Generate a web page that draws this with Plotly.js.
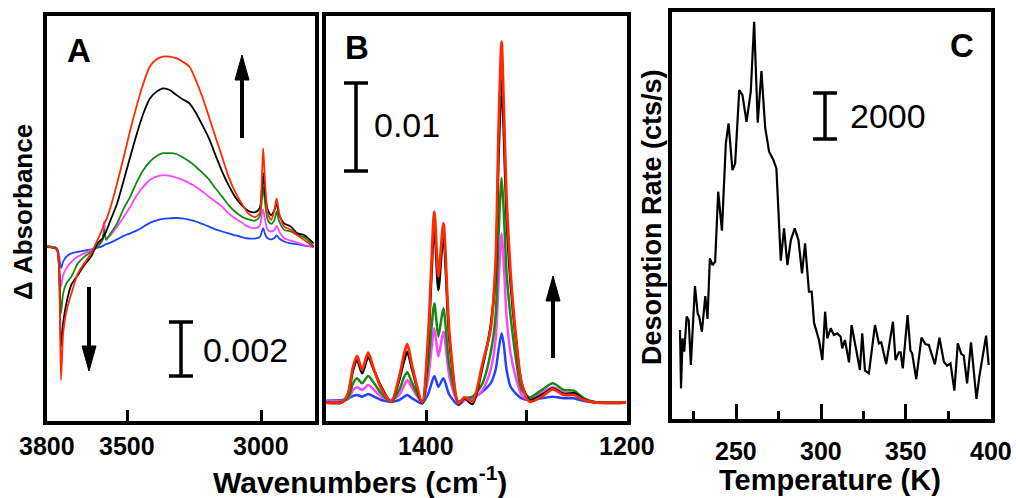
<!DOCTYPE html>
<html><head><meta charset="utf-8">
<script src="https://cdn.plot.ly/plotly-3.0.1.min.js"></script>
<style>html,body{margin:0;padding:0;background:#fff}#chart{width:1016px;height:498px}</style>
</head><body><div id="chart"></div>
<script>
// ---------- Panel A : O-H / C-H stretch region (mAbs) ----------
const aWavenumber = [3799,3762,3754,3746,3738,3726,3707,3683,3659,3634,3610,3591,3585,3578,3561,3537,3512,3488,3463,3439,3415,3390,3366,3341,3317,3293,3268,3244,3220,3195,3171,3146,3122,3098,3073,3049,3024,3006,2999,2993,2985,2976,2963,2951,2943,2933,2915,2890,2866,2841,2805];
const aRed = [0,-0.10,-0.62,-4.94,-3.21,-2.40,-1.73,-0.99,-0.62,-0.25,0.25,0.68,0.86,0.99,1.48,2.35,3.33,4.32,5.25,6.05,6.67,6.94,7.04,7.04,6.98,6.85,6.67,6.17,5.56,4.81,4.07,3.33,2.59,2.04,1.60,1.23,1.09,1.23,2.22,3.64,2.22,1.23,0.99,1.36,1.79,1.23,0.74,0.62,0.43,0.25,-0.02];
const aBlack = [-0.02,-0.10,-0.62,-3.70,-2.84,-2.10,-1.40,-1.05,-0.68,-0.37,0.12,0.31,0.43,0.56,0.99,1.60,2.47,3.33,4.20,4.94,5.49,5.74,5.86,5.80,5.62,5.46,5.31,4.96,4.51,4.01,3.40,2.78,2.28,1.85,1.54,1.33,1.27,1.42,1.98,2.72,1.85,1.36,1.17,1.36,1.58,1.17,0.86,0.74,0.49,0.43,0.12];
const aGreen = [0.02,-0.06,-0.62,-2.47,-1.73,-1.36,-1.11,-0.62,-0.37,-0.19,0,0.25,0.62,0.25,0.49,0.86,1.42,1.85,2.41,2.84,3.15,3.36,3.46,3.46,3.43,3.31,3.15,2.96,2.74,2.49,2.16,1.85,1.54,1.30,1.11,1.01,0.96,1.11,1.60,2.22,1.54,0.99,0.84,0.99,1.30,0.93,0.62,0.56,0.43,0.35,0.02];
const aMagenta = [0,-0.06,-0.49,-1.48,-1.05,-0.80,-0.56,-0.37,-0.25,-0.12,0.02,0.25,0.93,0.31,0.43,0.74,1.11,1.48,1.91,2.22,2.47,2.59,2.65,2.62,2.56,2.47,2.35,2.22,2.04,1.85,1.67,1.48,1.23,1.05,0.89,0.74,0.68,0.77,1.11,1.38,0.93,0.62,0.56,0.62,0.77,0.56,0.31,0.22,0.15,0.06,-0.02];
const aBlue = [0.02,-0.06,-0.31,-0.80,-0.56,-0.37,-0.25,-0.19,-0.15,-0.10,-0.04,0.02,0.06,0.09,0.15,0.27,0.40,0.49,0.60,0.74,0.88,0.97,1.03,1.05,1.06,1.05,0.99,0.93,0.84,0.74,0.64,0.56,0.49,0.42,0.35,0.30,0.30,0.35,0.52,0.68,0.43,0.31,0.27,0.32,0.42,0.30,0.19,0.12,0.09,0.04,0];
const aTicks = [3800,3500,3000];

// ---------- Panel B : fingerprint region (mAbs) ----------
const bWavenumber = [1500,1484,1478,1473,1469,1464,1458,1452,1445,1435,1427,1422,1419,1414,1404,1398,1392,1388,1383,1377,1368,1362,1354,1344,1336,1331,1328,1325,1323,1320,1316,1311,1305,1297,1285,1274,1263,1253,1243,1230,1201];
const bRed = [0.08,0.11,1.14,4.17,5.38,3.79,5.76,3.79,1.70,0.19,3.03,5.68,6.74,4.17,0.08,7.95,21.78,14.39,20.45,7.95,0,0.68,0.19,4.55,8.33,15.91,31.06,41.10,34.47,23.11,14.77,7.95,2.27,0.19,0.76,1.59,0.95,0.95,0.38,0.08,0.08];
const bBlack = [0.08,0.11,1.06,3.79,4.92,3.41,5.23,3.71,1.89,0.15,2.65,4.92,5.87,3.79,0,7.20,20.08,12.88,19.13,7.20,-0.08,0.57,-0.08,4.17,8.71,14.77,28.03,36.74,31.44,21.21,13.64,7.58,2.27,0.38,0.95,1.70,1.06,1.14,0.45,0.08,0.08];
const bGreen = [0.11,0.19,0.57,2.27,2.84,2.27,3.11,2.27,1.14,0.19,1.52,3.03,3.52,2.27,0.08,4.55,11.36,7.58,10.80,4.17,0.19,0.57,0.76,2.27,5.68,9.85,19.17,25.61,22.20,14.77,9.85,5.30,1.52,0.68,1.52,2.27,1.52,1.44,0.57,0.11,0.08];
const bMagenta = [0.27,0.30,0.49,1.52,1.82,1.52,2.08,1.52,0.76,0.38,0.95,2.08,2.65,1.70,0.08,3.03,8.52,5.30,8.14,3.03,0.08,0.38,0.45,1.52,3.79,7.20,13.64,19.32,16.29,9.85,5.68,3.03,0.95,0.38,1.21,1.82,1.21,1.14,0.45,0.11,0.08];
const bBlue = [0.30,0.38,0.53,0.83,0.95,0.76,1.06,0.76,0.38,0.19,0.38,0.76,0.95,0.57,0,1.14,3.11,1.89,2.84,0.95,-0.19,0.38,0.57,1.33,2.27,3.79,6.06,7.95,6.82,3.79,1.89,1.14,0.57,0.38,0.57,0.76,0.57,0.57,0.27,0.11,0.08];
const bTicks = [1400,1300,1200];
const bTickLabels = [1400,1200];

// ---------- Panel C : TPD desorption rate (cts/s) ----------
const cTemperature = [216.9,217.5,218.4,219.4,220.8,222.0,223.3,225.7,227.3,228.2,229.8,231.8,233.1,234.5,236.1,237.6,239.4,241.6,243.9,245.5,247.8,249.4,251.8,253.7,256.1,258.6,260.6,262.7,264.9,267.1,269.4,271.8,273.7,276.3,278.2,280.2,282.2,284.5,286.7,288.8,290.6,292.9,294.5,295.9,298.8,300.8,302.4,303.7,305.7,307.6,309.6,311.6,312.5,314.1,316.5,318.0,320.4,322.9,324.3,325.9,328.2,331.8,334.1,335.5,338.4,342.4,343.9,345.9,346.9,348.2,351.0,352.7,353.7,356.1,359.2,361.6,363.5,367.1,369.8,372.4,374.3,376.3,378.6,380.6,382.7,384.1,386.1,388.4,391.6,393.3,397.3,398.8];
const cRate = [3914,1432,3559,2992,4481,4339,2425,5785,4623,4481,3843,5360,4382,6962,6679,6821,9798,8139,11854,12705,10720,11004,14123,13911,12776,14052,17030,12734,14932,12521,11500,11174,10791,6863,8239,6679,7742,8239,7742,6324,7600,5544,5544,4226,3488,2637,4694,3559,3985,3701,3772,3630,3134,3488,2538,4126,3205,2212,3772,2184,2070,4126,3346,3389,2467,4268,2637,2964,2964,2283,4552,3035,2921,1829,3588,3304,3276,2453,3588,2567,2396,2496,1333,3346,2893,2822,1645,3389,978,1928,3673,2425];
const cTicks = [250,300,350,400];
const cMinorTicks = [225,275,325,375];

// ---------- drawing ----------
const W = 1016, H = 498;
const px = x => x / W;
const py = y => 1 - y / H;
const FONT = 'Liberation Sans, Arial, sans-serif';
const COL = {red:'#ff2a00', black:'#000000', green:'#138a13', magenta:'#ff44ff', blue:'#1f44ff'};

function spec(x, y, color, width, xa, ya) {
  return {x, y, xaxis: xa, yaxis: ya, type: 'scatter', mode: 'lines',
          line: {color, width, shape: 'spline', smoothing: 0.7}, hoverinfo: 'skip'};
}
const data = [
  spec(aWavenumber, aBlue, COL.blue, 1.8, 'x', 'y'),
  spec(aWavenumber, aMagenta, COL.magenta, 1.8, 'x', 'y'),
  spec(aWavenumber, aGreen, COL.green, 1.8, 'x', 'y'),
  spec(aWavenumber, aBlack, COL.black, 1.8, 'x', 'y'),
  spec(aWavenumber, aRed, COL.red, 1.8, 'x', 'y'),
  spec(bWavenumber, bBlue, COL.blue, 2.5, 'x2', 'y2'),
  spec(bWavenumber, bMagenta, COL.magenta, 2.5, 'x2', 'y2'),
  spec(bWavenumber, bGreen, COL.green, 2.5, 'x2', 'y2'),
  spec(bWavenumber, bBlack, COL.black, 2.5, 'x2', 'y2'),
  spec(bWavenumber, bRed, COL.red, 2.8, 'x2', 'y2'),
  {x: cTemperature, y: cRate, xaxis: 'x3', yaxis: 'y3', type: 'scatter', mode: 'lines',
   line: {color: '#000', width: 2.2}, hoverinfo: 'skip'}
];

const xBase = {showline: true, linewidth: 4, linecolor: '#000', mirror: true, showgrid: false,
               zeroline: false, ticks: 'inside', ticklen: 11, tickwidth: 3, tickcolor: '#000',
               showticklabels: false, fixedrange: true};
const yBase = {showline: true, linewidth: 4, linecolor: '#000', mirror: true, showgrid: false,
               zeroline: false, ticks: '', showticklabels: false, fixedrange: true};
const abY = [py(420.5), py(15.5)];

const layout = {
  width: W, height: H, margin: {l: 0, r: 0, t: 0, b: 0},
  paper_bgcolor: '#fff', plot_bgcolor: '#fff', showlegend: false,
  font: {family: FONT, color: '#000'},
  xaxis: Object.assign({}, xBase, {domain: [px(46.5), px(315)], range: [3800, 2800],
         tickmode: 'array', tickvals: aTicks, anchor: 'y'}),
  yaxis: Object.assign({}, yBase, {domain: abY, range: [-6.44, 8.56], anchor: 'x'}),
  xaxis2: Object.assign({}, xBase, {domain: [px(326), px(627)], range: [1500, 1200],
         tickmode: 'array', tickvals: bTicks, anchor: 'y2'}),
  yaxis2: Object.assign({}, yBase, {domain: abY, range: [-1.95, 44.07], anchor: 'x2'}),
  xaxis3: Object.assign({}, xBase, {domain: [px(671.7), px(990.7)], range: [212, 400],
         tickmode: 'array', tickvals: cTicks, ticklen: 15,
         minor: {ticks: 'inside', ticklen: 8, tickwidth: 3, tickcolor: '#000', tickmode: 'array', tickvals: cMinorTicks},
         anchor: 'y3'}),
  yaxis3: Object.assign({}, yBase, {domain: [py(419.3), py(12.3)], range: [115, 17433], anchor: 'x3'}),
  annotations: [],
  shapes: []
};

function txt(text, x, y, size, bold, opts) {
  layout.annotations.push(Object.assign({text, x: px(x), y: py(y), xref: 'paper', yref: 'paper',
    showarrow: false, xanchor: 'center', yanchor: 'middle',
    font: {family: FONT, size, color: '#000', weight: bold ? 'bold' : 'normal'}}, opts || {}));
}
// tick labels placed through each x axis' own scale
function tickLabels(vals, xref, y) {
  vals.forEach(v => layout.annotations.push({text: String(v), x: v, xref, y: py(y), yref: 'paper',
    showarrow: false, xanchor: 'center', yanchor: 'middle', cliponaxis: false,
    font: {family: FONT, size: 25, color: '#000', weight: 'bold'}}));
}
tickLabels(aTicks, 'x', 446);
tickLabels(bTickLabels, 'x2', 446);
tickLabels(cTicks, 'x3', 451);

txt('A', 79, 50, 33, true);
txt('B', 357, 48, 33, true);
txt('C', 962, 45, 33, true);
txt('0.002', 201, 350, 34, false, {xanchor: 'left'});
txt('0.01', 372, 125, 34, false, {xanchor: 'left'});
txt('2000', 848, 116, 34, false, {xanchor: 'left'});
txt('\u0394 Absorbance', 23, 212, 26, true, {textangle: -90});
txt('Desorption Rate (cts/s)', 652, 217, 27, true, {textangle: -90});
txt('Wavenumbers (cm<sup>-1</sup>)', 360, 480, 30, true);
txt('Temperature (K)', 830, 480, 29, true);

function seg(x0, y0, x1, y1, w) {
  layout.shapes.push({type: 'line', xref: 'paper', yref: 'paper', x0: px(x0), y0: py(y0), x1: px(x1), y1: py(y1),
                      line: {color: '#000', width: w}});
}
function scaleBar(x, yTop, yBot, half) {
  seg(x, yTop, x, yBot, 3.5);
  seg(x - half, yTop, x + half, yTop, 3.5);
  seg(x - half, yBot, x + half, yBot, 3.5);
}
scaleBar(181, 322, 376, 12);
scaleBar(356, 83, 171, 12);
scaleBar(825, 93, 139, 12);

function arrow(x, yTail, yTip, headLen, half) {
  const dir = yTip < yTail ? 1 : -1;
  const yBase = yTip + dir * headLen;
  seg(x, yTail, x, yBase - dir * 2, 4);
  layout.shapes.push({type: 'path', xref: 'paper', yref: 'paper',
    path: `M ${px(x)},${py(yTip)} L ${px(x - half)},${py(yBase)} L ${px(x + half)},${py(yBase)} Z`,
    fillcolor: '#000', line: {color: '#000', width: 1}});
}
arrow(242, 138, 55, 25, 7);
arrow(89, 287, 371, 25, 7);
arrow(553, 358, 276, 25, 7);

Plotly.newPlot('chart', data, layout, {staticPlot: true, displayModeBar: false});
</script></body></html>
